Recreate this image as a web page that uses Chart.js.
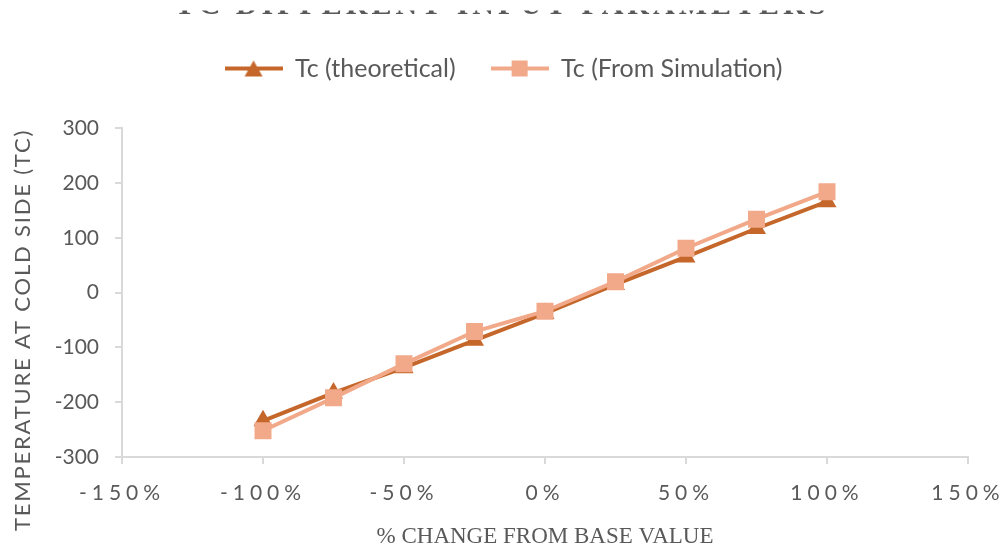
<!DOCTYPE html>
<html>
<head>
<meta charset="utf-8">
<title>Tc vs % change</title>
<script src="https://cdn.jsdelivr.net/npm/chart.js@4.4.1/dist/chart.umd.min.js"></script>
<style>
  html, body { margin: 0; padding: 0; background: #ffffff; }
  canvas { display: block; }
</style>
</head>
<body>
<canvas id="tc_chart" width="1007" height="548"></canvas>
<script>
// % change from base value and cold side temperature for each run
var pctChange = [-100, -75, -50, -25, 0, 25, 50, 75, 100];
var tcTheoretical = [-234, -183, -137, -87, -38, 15, 65, 117, 166];
var tcSimulation = [-252, -192, -130, -71, -34, 20, 81, 134, 184];

var seriesNames = ['Tc (theoretical)', 'Tc (From Simulation)'];
var chartTitle = 'TC DIFFERENT INPUT PARAMETERS';
var xTitle = '% CHANGE FROM BASE VALUE';
var yTitle = 'TEMPERATURE AT COLD SIDE (TC)';

var darkOrange = '#c5672a';
var lightOrange = '#f1a98a';
var textGrey = '#595959';
var axisGrey = '#d9d9d9';

function toPoints(xs, ys) {
    return xs.map(function (x, i) { return {x: x, y: ys[i]}; });
}

// little line + marker pictures for the legend
function legendSwatch(color, shape) {
    var c = document.createElement('canvas');
    c.width = 58;
    c.height = 22;
    var g = c.getContext('2d');
    g.strokeStyle = color;
    g.fillStyle = color;
    g.lineWidth = 4;
    g.beginPath();
    g.moveTo(0, 11);
    g.lineTo(58, 11);
    g.stroke();
    if (shape == 'triangle') {
        g.beginPath();
        g.moveTo(29, 3);
        g.lineTo(38, 19);
        g.lineTo(20, 19);
        g.closePath();
        g.fill();
    } else {
        g.fillRect(21, 3, 16, 16);
    }
    return c;
}
var swatches = [legendSwatch(darkOrange, 'triangle'), legendSwatch(lightOrange, 'square')];

// title only shows its lower edge, y axis title is drawn by hand
var textPlugin = {
    id: 'extraText',
    beforeDraw: function (chart) {
        var xs = chart.scales.x;
        if (!xs._spaced) {
            var orig = xs.drawLabels;
            xs.drawLabels = function (area) {
                var ctx = this.ctx;
                ctx.save();
                ctx.letterSpacing = '5px';
                orig.call(this, area);
                ctx.restore();
            };
            xs._spaced = true;
        }
    },
    afterDraw: function (chart) {
        var ctx = chart.ctx;
        ctx.save();
        ctx.beginPath();
        ctx.rect(0, 10.5, chart.width, 10);
        ctx.clip();
        ctx.fillStyle = textGrey;
        ctx.font = 'bold 30px "Liberation Serif"';
        ctx.letterSpacing = '4px';
        ctx.textAlign = 'center';
        ctx.textBaseline = 'alphabetic';
        ctx.fillText(chartTitle, 502, 14);
        ctx.restore();

        ctx.save();
        ctx.fillStyle = textGrey;
        ctx.font = '22px Lato';
        ctx.letterSpacing = '1.8px';
        ctx.textAlign = 'center';
        ctx.textBaseline = 'middle';
        ctx.translate(23, 330);
        ctx.rotate(-Math.PI / 2);
        ctx.fillText(yTitle, 0, 0);
        ctx.restore();
    }
};

var tc_config = {
    type: 'line',
    data: {
        datasets: [{
            label: seriesNames[0],
            data: toPoints(pctChange, tcTheoretical),
            borderColor: darkOrange,
            backgroundColor: darkOrange,
            borderWidth: 4,
            pointStyle: 'triangle',
            pointRadius: 11,
            pointBorderWidth: 0,
            pointHoverRadius: 11,
            tension: 0,
            order: 2
        }, {
            label: seriesNames[1],
            data: toPoints(pctChange, tcSimulation),
            borderColor: lightOrange,
            backgroundColor: lightOrange,
            borderWidth: 4,
            pointStyle: 'rect',
            pointRadius: 12,
            pointBorderWidth: 0,
            pointHoverRadius: 12,
            tension: 0,
            order: 1
        }]
    },
    options: {
        responsive: false,
        devicePixelRatio: 1,
        animation: false,
        layout: {
            padding: {top: 21, right: 0, bottom: 0, left: 0}
        },
        plugins: {
            legend: {
                display: true,
                position: 'top',
                labels: {
                    usePointStyle: true,
                    pointStyleWidth: 58,
                    padding: 35,
                    color: textGrey,
                    font: {family: 'Lato', size: 25},
                    generateLabels: function (chart) {
                        var items = Chart.defaults.plugins.legend.labels.generateLabels(chart);
                        items.forEach(function (it) { it.pointStyle = swatches[it.datasetIndex]; });
                        return items;
                    },
                    sort: function (a, b) { return a.datasetIndex - b.datasetIndex; }
                }
            },
            // empty spacer between the legend and the plot
            subtitle: {
                display: true,
                text: '',
                position: 'top',
                weight: 500,
                font: {size: 1},
                padding: {top: 36, bottom: 0}
            },
            tooltip: {enabled: false}
        },
        scales: {
            x: {
                type: 'linear',
                min: -150,
                max: 150,
                border: {color: axisGrey, width: 2},
                grid: {drawOnChartArea: false, drawTicks: true, tickLength: 7, color: axisGrey, lineWidth: 2},
                ticks: {
                    stepSize: 50,
                    padding: 17,
                    color: textGrey,
                    font: {family: 'Lato', size: 21},
                    callback: function (v) { return v + '%'; }
                },
                title: {
                    display: true,
                    text: xTitle,
                    color: textGrey,
                    font: {family: 'Liberation Serif', size: 23},
                    padding: {top: 0, bottom: -3}
                },
                afterFit: function (scale) {
                    scale.height = 91;
                    scale.paddingLeft = 0;
                    scale.paddingRight = 39;
                }
            },
            y: {
                min: -300,
                max: 300,
                border: {color: axisGrey, width: 2},
                grid: {drawOnChartArea: false, drawTicks: true, tickLength: 7, color: axisGrey, lineWidth: 2},
                ticks: {
                    stepSize: 100,
                    padding: 16,
                    color: textGrey,
                    font: {family: 'Lato', size: 21}
                },
                afterFit: function (scale) { scale.width = 122; }
            }
        }
    },
    plugins: [textPlugin]
};

var tc_ctx = document.getElementById('tc_chart').getContext('2d');
var tc_chart = new Chart(tc_ctx, tc_config);
</script>
</body>
</html>
